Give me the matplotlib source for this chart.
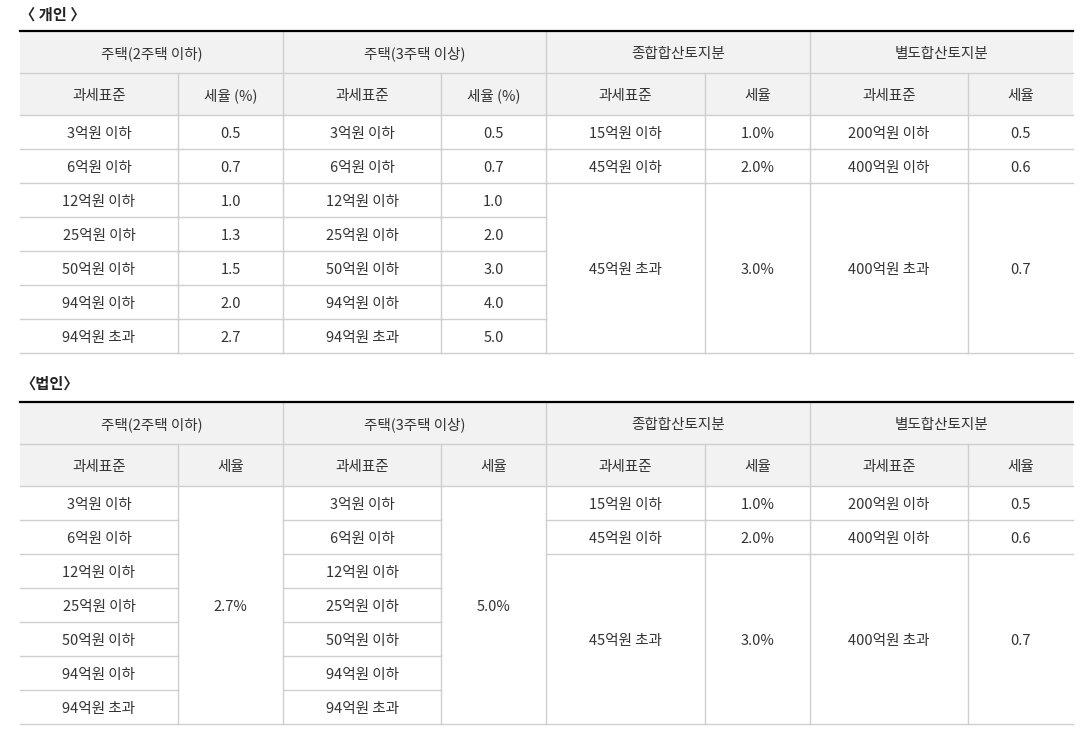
import matplotlib.pyplot as plt
from matplotlib.patches import Rectangle

plt.rcParams['font.family'] = ['Noto Sans CJK KR', 'DejaVu Sans']

groups = ['주택(2주택 이하)', '주택(3주택 이상)', '종합합산토지분', '별도합산토지분']
sub_personal = ['과세표준', '세율 (%)', '과세표준', '세율 (%)', '과세표준', '세율', '과세표준', '세율']
sub_corp = ['과세표준', '세율', '과세표준', '세율', '과세표준', '세율', '과세표준', '세율']

house_brackets = ['3억원 이하', '6억원 이하', '12억원 이하', '25억원 이하',
                  '50억원 이하', '94억원 이하', '94억원 초과']
p_rate_2 = ['0.5', '0.7', '1.0', '1.3', '1.5', '2.0', '2.7']
p_rate_3 = ['0.5', '0.7', '1.0', '2.0', '3.0', '4.0', '5.0']
c_rate_2 = '2.7%'
c_rate_3 = '5.0%'
land_brackets = ['15억원 이하', '45억원 이하', '45억원 초과']
land_rates = ['1.0%', '2.0%', '3.0%']
sep_brackets = ['200억원 이하', '400억원 이하', '400억원 초과']
sep_rates = ['0.5', '0.6', '0.7']

col_x = [20, 178, 283, 441, 546, 705, 810, 968, 1073]
HEAD_H = 42
ROW_H = 34
GRID = '#cfcfcf'
HEAD_BG = '#f2f2f2'
TXT = '#333333'
FS = 10.5

fig = plt.figure(figsize=(10.89, 7.39), dpi=100)
ax = fig.add_axes([0, 0, 1, 1])
ax.set_xlim(0, 1089)
ax.set_ylim(739, 0)
ax.axis('off')


def cell(c0, c1, y0, y1, text, bg='white'):
    x0, x1 = col_x[c0], col_x[c1]
    ax.add_patch(Rectangle((x0, y0), x1 - x0, y1 - y0, facecolor=bg, edgecolor='none', zorder=1))
    ax.plot([x0, x1], [y1, y1], color=GRID, lw=1, zorder=2)
    if c1 < len(col_x) - 1:
        ax.plot([x1, x1], [y0, y1], color=GRID, lw=1, zorder=2)
    ax.text((x0 + x1) / 2, (y0 + y1) / 2 + 2, text, ha='center', va='center',
            fontsize=FS, color=TXT, zorder=3)


def draw_table(top, subs, body):
    for i, g in enumerate(groups):
        cell(2 * i, 2 * i + 2, top, top + HEAD_H, g, HEAD_BG)
    for j, s in enumerate(subs):
        cell(j, j + 1, top + HEAD_H, top + 2 * HEAD_H, s, HEAD_BG)
    by = top + 2 * HEAD_H
    for col, r0, span, text in body:
        cell(col, col + 1, by + r0 * ROW_H, by + (r0 + span) * ROW_H, text)
    ax.plot([col_x[0], col_x[-1]], [top, top], color='black', lw=1.6, zorder=4)


def land_cells(start):
    out = []
    for k in range(3):
        r0 = k
        span = 1 if k < 2 else 5
        out.append((start, r0, span, land_brackets[k]))
        out.append((start + 1, r0, span, land_rates[k]))
        out.append((start + 2, r0, span, sep_brackets[k]))
        out.append((start + 3, r0, span, sep_rates[k]))
    return out


# personal
body_p = []
for r in range(7):
    body_p.append((0, r, 1, house_brackets[r]))
    body_p.append((1, r, 1, p_rate_2[r]))
    body_p.append((2, r, 1, house_brackets[r]))
    body_p.append((3, r, 1, p_rate_3[r]))
body_p += land_cells(4)

# corporate
body_c = []
for r in range(7):
    body_c.append((0, r, 1, house_brackets[r]))
    body_c.append((2, r, 1, house_brackets[r]))
body_c.append((1, 0, 7, c_rate_2))
body_c.append((3, 0, 7, c_rate_3))
body_c += land_cells(4)

ax.text(20, 15, '〈 개인 〉', ha='left', va='center', fontsize=11,
        fontweight='bold', color='#222222')
draw_table(31, sub_personal, body_p)
ax.text(20, 384, '〈법인〉', ha='left', va='center', fontsize=11,
        fontweight='bold', color='#222222')
draw_table(402, sub_corp, body_c)

fig.savefig('out.png', dpi=100)
